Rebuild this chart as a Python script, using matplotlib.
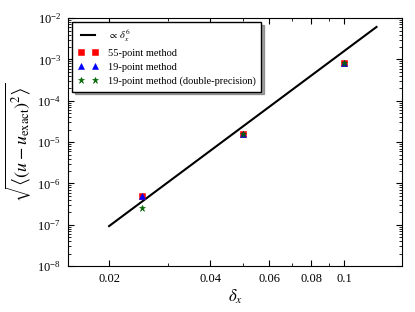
import numpy as np
import matplotlib
matplotlib.use("Agg")
import matplotlib.pyplot as plt
from matplotlib.ticker import FixedLocator, NullFormatter, FixedFormatter

plt.rcParams["font.family"] = ["Liberation Serif", "DejaVu Serif"]
plt.rcParams["mathtext.fontset"] = "stix"

# grid spacing
dx = [0.025, 0.05, 0.1]

# RMS error for each method
err_55 = [5.0e-7, 1.6e-5, 8.3e-4]
err_19 = [5.0e-7, 1.6e-5, 8.3e-4]
err_19_double = [2.5e-7, 1.6e-5, 8.3e-4]

# reference slope line (proportional to dx^6)
ref_x = [0.02, 0.125]
ref_y = [9.3e-8, 6.1e-3]

xticks = [0.02, 0.04, 0.06, 0.08, 0.1]
xtick_labels = ["0.02", "0.04", "0.06", "0.08", "0.1"]
xminor = [0.03, 0.05, 0.07, 0.09]

fig = plt.figure(figsize=(4.15, 3.12), dpi=100)
ax = fig.add_axes([0.164, 0.147, 0.805, 0.795])

ax.plot(ref_x, ref_y, "k-", linewidth=1.5, label=r"$\propto\,\delta_x^6$")
ax.plot(dx, err_55, "rs", markersize=4.5, markeredgewidth=0.4, label="55-point method")
ax.plot(dx, err_19, "b^", markersize=4.5, markeredgewidth=0.4, label="19-point method")
ax.plot(dx, err_19_double, "*", color="darkgreen", markersize=5,
        markeredgewidth=0.4, label="19-point method (double-precision)")

ax.set_xscale("log")
ax.set_yscale("log")
ax.set_xlim(0.0151, 0.149)
ax.set_ylim(1e-8, 1e-2)

ax.xaxis.set_major_locator(FixedLocator(xticks))
ax.xaxis.set_major_formatter(FixedFormatter(xtick_labels))
ax.xaxis.set_minor_locator(FixedLocator(xminor))
ax.xaxis.set_minor_formatter(NullFormatter())

ax.tick_params(which="both", direction="in", top=True, right=True, labelsize=9)
ax.tick_params(which="major", length=4, pad=5)
ax.tick_params(which="minor", length=2)

ax.set_xlabel(r"$\delta_x$", fontsize=12, labelpad=2)
ax.set_ylabel(r"$\sqrt{\left\langle(u-u_{\mathrm{exact}})^2\right\rangle}$", fontsize=13,
              labelpad=3)

ax.legend(loc="upper left", numpoints=2, fontsize=7.5, shadow=True, fancybox=False,
          framealpha=1, edgecolor="black", handlelength=2.0, borderpad=0.5,
          labelspacing=0.45, handletextpad=0.9, borderaxespad=0.4)

fig.savefig("out.png", dpi=100)
